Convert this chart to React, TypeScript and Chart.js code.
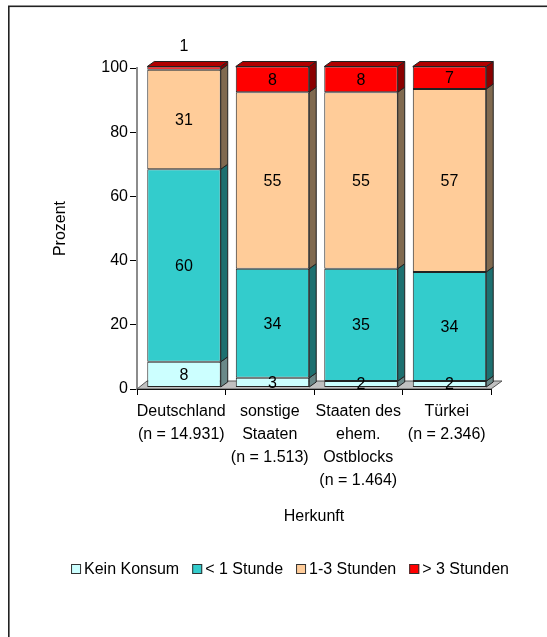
import React, { useEffect, useRef } from "react";
import { Chart, registerables } from "chart.js";

Chart.register(...registerables);

// ---- data ----
const categories: string[][] = [
  ["Deutschland", "(n = 14.931)"],
  ["sonstige", "Staaten", "(n = 1.513)"],
  ["Staaten des", "ehem.", "Ostblocks", "(n = 1.464)"],
  ["Türkei", "(n = 2.346)"],
];
const seriesLabels = ["Kein Konsum", "< 1 Stunde", "1-3 Stunden", "> 3 Stunden"];
const keinKonsum = [8, 3, 2, 2];
const unterEineStunde = [60, 34, 35, 34];
const einsBisDreiStunden = [31, 55, 55, 57];
const ueberDreiStunden = [1, 8, 8, 7];
const yTickValues = [0, 20, 40, 60, 80, 100];
const yTitle = "Prozent";
const xTitle = "Herkunft";

// ---- styles ----
const frontColors = ["#CCFFFF", "#33CCCC", "#FFCC99", "#FF0000"];
const sideColors = ["#6A8888", "#1D7070", "#806A50", "#8A0000"];
const topColors = ["#A0CCCC", "#29A3A3", "#CCA37A", "#B00000"];
const FONT = '"Liberation Sans", Arial, Helvetica, sans-serif';

export default function App() {
  const ref = useRef<HTMLCanvasElement>(null);

  useEffect(() => {
    const canvas = ref.current!;
    const series = [keinKonsum, unterEineStunde, einsBisDreiStunden, ueberDreiStunden];
    const SHIFT_X = 2.75;
    const SHIFT_Y = -1.5;
    const DX = 7;
    const DY = 5;

    const poly = (ctx: CanvasRenderingContext2D, pts: number[][], fill: string) => {
      ctx.beginPath();
      ctx.moveTo(pts[0][0], pts[0][1]);
      for (let k = 1; k < pts.length; k++) ctx.lineTo(pts[k][0], pts[k][1]);
      ctx.closePath();
      ctx.fillStyle = fill;
      ctx.fill();
      ctx.strokeStyle = "#222";
      ctx.lineWidth = 1;
      ctx.stroke();
    };

    const plugin = {
      id: "pseudo3d",
      beforeDatasetsDraw(chart: any) {
        const { ctx, chartArea: a } = chart;
        ctx.save();
        ctx.beginPath();
        ctx.moveTo(a.left, a.bottom);
        ctx.lineTo(a.right, a.bottom);
        ctx.lineTo(a.right + 11, a.bottom - 8);
        ctx.lineTo(a.left + 10, a.bottom - 8);
        ctx.closePath();
        ctx.fillStyle = "#C0C0C0";
        ctx.fill();
        ctx.strokeStyle = "#555";
        ctx.lineWidth = 1;
        ctx.stroke();
        ctx.beginPath();
        ctx.moveTo(a.left, a.bottom + 0.5);
        ctx.lineTo(a.right, a.bottom + 0.5);
        ctx.strokeStyle = "#111";
        ctx.stroke();
        ctx.restore();
        ctx.save();
        ctx.translate(SHIFT_X, SHIFT_Y);
      },
      afterDatasetsDraw(chart: any) {
        const ctx = chart.ctx as CanvasRenderingContext2D;
        const n = chart.data.datasets.length;
        for (let di = 0; di < n; di++) {
          const meta = chart.getDatasetMeta(di);
          meta.data.forEach((el: any) => {
            const { x, y, base, width } = el.getProps(["x", "y", "base", "width"], true);
            const l = x - width / 2;
            const r = x + width / 2;
            poly(ctx, [[r, y], [r + DX, y - DY], [r + DX, base - DY], [r, base]], sideColors[di]);
            if (di === n - 1) {
              poly(ctx, [[l, y], [r, y], [r + DX, y - DY], [l + DX, y - DY]], topColors[di]);
            }
          });
        }
        ctx.fillStyle = "#000";
        ctx.font = `16px ${FONT}`;
        ctx.textAlign = "center";
        ctx.textBaseline = "middle";
        for (let di = 0; di < n; di++) {
          const meta = chart.getDatasetMeta(di);
          meta.data.forEach((el: any, i: number) => {
            const { x, y, base } = el.getProps(["x", "y", "base"], true);
            const v = series[di][i];
            const cy = v < 1.5 ? y - 20 : (y + base) / 2 + 1;
            ctx.fillText(String(v), x, cy);
          });
        }
        ctx.restore();
      },
      afterDraw(chart: any) {
        const ctx = chart.ctx as CanvasRenderingContext2D;
        ctx.save();
        // frame
        ctx.fillStyle = "#222";
        ctx.fillRect(8, 6, 1.6, 700);
        ctx.fillRect(8, 5.5, 600, 1.6);
        // legend
        ctx.font = `16px ${FONT}`;
        ctx.textBaseline = "middle";
        ctx.textAlign = "left";
        const box = 10, gapBox = 3, gapItem = 13;
        const widths = seriesLabels.map((s) => ctx.measureText(s).width);
        const total = widths.reduce((s, w) => s + box + gapBox + w, 0) + gapItem * (seriesLabels.length - 1);
        let x = 290 - total / 2;
        const cy = 569;
        seriesLabels.forEach((s, i) => {
          ctx.fillStyle = frontColors[i];
          ctx.fillRect(x, cy - box / 2, box, box);
          ctx.strokeStyle = "#333";
          ctx.lineWidth = 1;
          ctx.strokeRect(x + 0.5, cy - box / 2 + 0.5, box - 1, box - 1);
          ctx.fillStyle = "#000";
          ctx.fillText(s, x + box + gapBox, cy + 1);
          x += box + gapBox + widths[i] + gapItem;
        });
        ctx.restore();
      },
    };

    const chart = new Chart(canvas, {
      type: "bar",
      data: {
        labels: categories,
        datasets: series.map((d, i) => ({
          label: seriesLabels[i],
          data: d,
          backgroundColor: frontColors[i],
          borderColor: "#222",
          borderWidth: 1,
          borderSkipped: false,
          barPercentage: 0.83,
          categoryPercentage: 1,
          clip: false as any,
        })),
      },
      options: {
        responsive: false,
        animation: false,
        devicePixelRatio: 1,
        layout: { padding: { left: 0, right: 56, top: 68, bottom: 0 } },
        plugins: {
          legend: { display: false },
          tooltip: { enabled: false },
          title: { display: false },
        },
        scales: {
          x: {
            stacked: true,
            afterFit: (s: any) => {
              s.height = 248;
            },
            grid: { display: true, drawOnChartArea: false, drawTicks: true, tickLength: 6, color: "#000", offset: true },
            border: { display: true, color: "#111", width: 1 },
            ticks: {
              color: "#000",
              padding: 5,
              maxRotation: 0,
              autoSkip: false,
              font: { family: FONT, size: 16, lineHeight: 23 / 16 },
            },
            title: {
              display: true,
              text: xTitle,
              color: "#000",
              font: { family: FONT, size: 16 },
              padding: { top: 0, bottom: 110.4 },
            },
          },
          y: {
            stacked: true,
            min: 0,
            max: 100,
            afterFit: (s: any) => {
              s.width = 137;
            },
            afterBuildTicks: (s: any) => {
              s.ticks = yTickValues.map((v) => ({ value: v }));
            },
            grid: { display: true, drawOnChartArea: false, drawTicks: true, tickLength: 7, color: "#000" },
            border: { display: true, color: "#8C8C8C", width: 2 },
            ticks: {
              color: "#000",
              padding: 2,
              font: { family: FONT, size: 16 },
            },
            title: {
              display: true,
              text: yTitle,
              color: "#000",
              font: { family: FONT, size: 16 },
              padding: { top: 51.4, bottom: 0 },
            },
          },
        },
      },
      plugins: [plugin],
    } as any);

    return () => chart.destroy();
  }, []);

  return (
    <div style={{ position: "fixed", left: 0, top: 0, width: 547, height: 637, background: "#fff" }}>
      <canvas ref={ref} width={547} height={637} style={{ width: 547, height: 637, display: "block" }} />
    </div>
  );
}
